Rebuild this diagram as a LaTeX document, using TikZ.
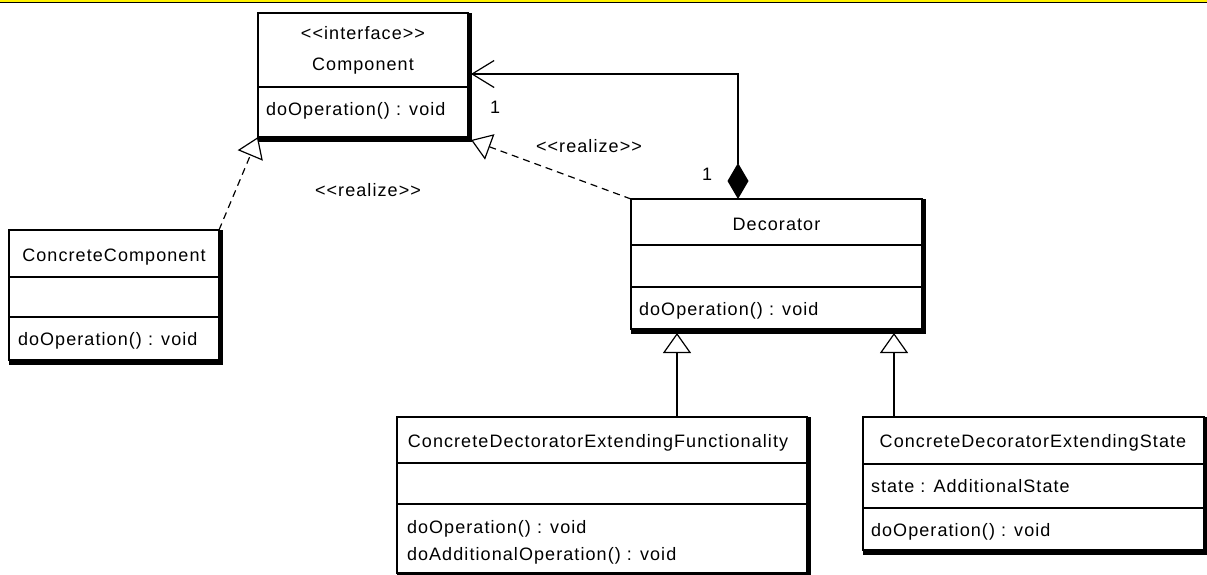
\documentclass[tikz,border=0pt]{standalone}
\usepackage{fontspec}
\setmainfont{Liberation Sans}
\newfontfamily\umlfont[LetterSpace=6]{Liberation Sans}
\usetikzlibrary{arrows.meta,calc}
\newcommand{\umltext}{\umlfont\fontsize{18pt}{20pt}\selectfont}
\newcommand{\boxshadow}[1]{%
  \draw[line width=4pt] ([xshift=2pt]#1.north east) -- ([xshift=2pt,yshift=-2.5pt]#1.south east) -- ([yshift=-2.5pt]#1.south west);}
\begin{document}
\begin{tikzpicture}[x=1pt,y=-1pt,
  umlbox/.style={draw, line width=1.2pt, inner sep=0pt, outer sep=0pt, anchor=north west},
  divline/.style={line width=1.2pt},
  txt/.style={inner sep=0pt, outer sep=0pt, font=\umltext},
  conn/.style={line width=1.2pt},
  realize/.style={conn, dash pattern=on 7pt off 5pt, -{Triangle[open, length=20pt, width=27pt, line width=1.2pt]}},
  gen/.style={conn, -{Triangle[open, length=20pt, width=28pt, line width=1.2pt]}},
  assoc/.style={conn, {Diamond[length=36pt, width=21pt]}-{Straight Barb[length=22pt, width=27pt, line width=1.2pt]}}]
\useasboundingbox (0,0) rectangle (1207,574);
\fill[yellow] (0,0) rectangle (1207,1.6);
\draw[line width=1pt] (0,2) -- (1207,2);

% boxes
\node[umlbox, minimum width=210pt, minimum height=124pt] (comp) at (258,13) {};
\node[umlbox, minimum width=210pt, minimum height=130pt] (cc) at (9,230) {};
\node[umlbox, minimum width=291pt, minimum height=130pt] (dec) at (631,199) {};
\node[umlbox, minimum width=410pt, minimum height=156pt] (cdef) at (397,417) {};
\node[umlbox, minimum width=341pt, minimum height=133pt] (cdes) at (863,417) {};

\boxshadow{comp}
\boxshadow{cc}
\boxshadow{dec}
\boxshadow{cdef}
\boxshadow{cdes}

% dividers
\draw[divline] ($(comp.north west)+(0,74)$) -- ($(comp.north east)+(0,74)$);
\draw[divline] ($(cc.north west)+(0,47)$) -- ($(cc.north east)+(0,47)$);
\draw[divline] ($(cc.north west)+(0,87)$) -- ($(cc.north east)+(0,87)$);
\draw[divline] ($(dec.north west)+(0,46)$) -- ($(dec.north east)+(0,46)$);
\draw[divline] ($(dec.north west)+(0,88)$) -- ($(dec.north east)+(0,88)$);
\draw[divline] ($(cdef.north west)+(0,46)$) -- ($(cdef.north east)+(0,46)$);
\draw[divline] ($(cdef.north west)+(0,87)$) -- ($(cdef.north east)+(0,87)$);
\draw[divline] ($(cdes.north west)+(0,47)$) -- ($(cdes.north east)+(0,47)$);
\draw[divline] ($(cdes.north west)+(0,91)$) -- ($(cdes.north east)+(0,91)$);

% texts
\node[txt, anchor=base] (compst) at (363,39.5) {<{}<interface>{}>};
\node[txt, anchor=base] (compname) at (363,70) {Component};
\node[txt, anchor=base west] (compop) at (266,115) {doOperation() : void};

\node[txt, anchor=base] (ccname) at (114,261) {ConcreteComponent};
\node[txt, anchor=base west] (ccop) at (18,345) {doOperation() : void};

\node[txt, anchor=base] (decname) at (776.5,230) {Decorator};
\node[txt, anchor=base west] (decop) at (639,315) {doOperation() : void};

\node[txt, anchor=base] (cdefname) at (598,447) {ConcreteDectoratorExtendingFunctionality};
\node[txt, anchor=base west] (cdefop1) at (407,533) {doOperation() : void};
\node[txt, anchor=base west] (cdefop2) at (407,560) {doAdditionalOperation() : void};

\node[txt, anchor=base] (cdesname) at (1033,447) {ConcreteDecoratorExtendingState};
\node[txt, anchor=base west] (cdesattr) at (871,492) {state : AdditionalState};
\node[txt, anchor=base west] (cdesop) at (871,536) {doOperation() : void};

% connectors
\draw[assoc] ($(dec.north west)+(107,0)$) |- ([xshift=3pt,yshift=1pt]comp.east);
\draw[realize] (cc.north east) -- (comp.south west);
\draw[realize] (dec.north west) -- ([xshift=3pt,yshift=-3pt]comp.south east);
\coordinate (g1) at (677,333);
\coordinate (g2) at (894,333);
\draw[gen] (cdef.north -| g1) -- (g1);
\draw[gen] (cdes.north -| g2) -- (g2);

% labels
\node[txt, anchor=base] (m1) at (495,113) {1};
\node[txt, anchor=base] (m2) at (707,180) {1};
\node[txt, anchor=base] (r1) at (589,152) {<{}<realize>{}>};
\node[txt, anchor=base] (r2) at (368,196) {<{}<realize>{}>};
\end{tikzpicture}
\end{document}
